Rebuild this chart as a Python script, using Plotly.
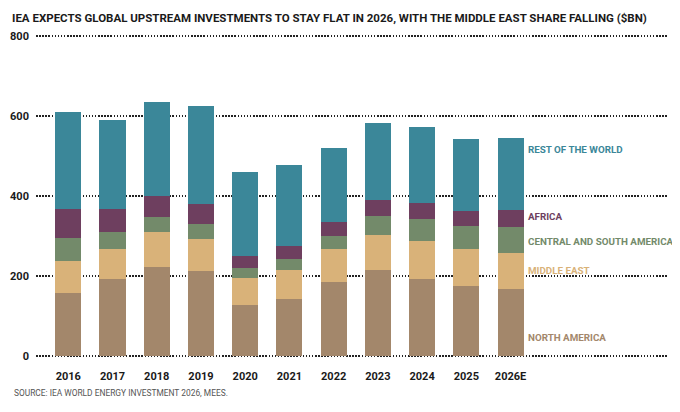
import plotly.graph_objects as go

years = ["2016", "2017", "2018", "2019", "2020", "2021", "2022", "2023", "2024", "2025", "2026E"]

# stacked segments, $bn
north_america = [158, 192, 222, 213, 127, 142, 186, 215, 193, 175, 167]
middle_east = [79, 75, 89, 79, 67, 72, 81, 88, 95, 92, 91]
central_south_america = [58, 42, 37, 39, 26, 29, 34, 48, 55, 59, 64]
africa = [72, 58, 53, 50, 30, 32, 35, 38, 40, 37, 43]
rest_of_world = [244, 223, 235, 245, 210, 203, 184, 194, 190, 179, 179]

series = [
    ("NORTH AMERICA", north_america, "#A3876B"),
    ("MIDDLE EAST", middle_east, "#D9B279"),
    ("CENTRAL AND SOUTH AMERICA", central_south_america, "#738A6A"),
    ("AFRICA", africa, "#6E3F5F"),
    ("REST OF THE WORLD", rest_of_world, "#3B8799"),
]

# where the right-hand labels sit (y in $bn)
label_y = {
    "NORTH AMERICA": 47,
    "MIDDLE EAST": 215,
    "CENTRAL AND SOUTH AMERICA": 287,
    "AFRICA": 350,
    "REST OF THE WORLD": 517,
}

font = "Roboto"

fig = go.Figure()
for name, vals, color in series:
    fig.add_trace(go.Bar(
        x=years, y=vals, name=name,
        marker=dict(color=color, line=dict(width=0)),
        width=0.59,
    ))

annotations = []
for name, vals, color in series:
    annotations.append(dict(
        x=years[-1], y=label_y[name], xref="x", yref="y",
        text="<b>" + name + "</b>", showarrow=False,
        xanchor="left", yanchor="middle", xshift=15,
        font=dict(family=font, size=9.8, color=color),
    ))

# source line below the axis
annotations.append(dict(
    x=4, y=385, xref="paper", yref="paper", xanchor="left", yanchor="middle",
    text="SOURCE: IEA WORLD ENERGY INVESTMENT 2026, MEES.",
    showarrow=False, font=dict(family=font, size=8.4, color="#555555"),
))

# page body has an 8px margin, so the figure is drawn 8px smaller
W, H = 672, 404
L, R, T, B = 28, 12, 26, 54
pw, ph = W - L - R, H - T - B
# convert source position from figure pixels to paper fractions
src = annotations[-1]
src["x"] = (src["x"] - L) / pw
src["y"] = (H - B - src["y"]) / ph

fig.update_layout(
    barmode="stack",
    width=W, height=H,
    margin=dict(l=L, r=R, t=T, b=B),
    paper_bgcolor="white", plot_bgcolor="white",
    showlegend=False,
    title=dict(
        text="<b>IEA EXPECTS GLOBAL UPSTREAM INVESTMENTS TO STAY FLAT IN 2026, WITH THE MIDDLE EAST SHARE FALLING ($BN)</b>",
        x=0.006, xanchor="left", y=0.975, yanchor="middle",
        font=dict(family=font, size=11.5, color="#1a1a1a"),
    ),
    font=dict(family=font, color="#1a1a1a"),
    annotations=annotations,
)

fig.update_xaxes(
    type="category", range=[-0.73, 13.56], automargin=False,
    showgrid=False, showline=False, ticks="",
    tickvals=years, ticktext=["<b>" + y + "</b>" for y in years],
    tickfont=dict(family=font, size=11, color="#1a1a1a"),
    ticklabelstandoff=10,
)
fig.update_yaxes(
    range=[-5, 805], tickvals=[0, 200, 400, 600, 800], automargin=False,
    ticktext=["<b>0</b>", "<b>200</b>", "<b>400</b>", "<b>600</b>", "<b>800</b>"],
    showgrid=True, gridcolor="#222222", gridwidth=1.5, griddash="1.5px,1.6px",
    zeroline=False, showline=False,
    tickfont=dict(family=font, size=11, color="#1a1a1a"),
    ticklabelstandoff=6,
)

fig.write_html("out.html")
